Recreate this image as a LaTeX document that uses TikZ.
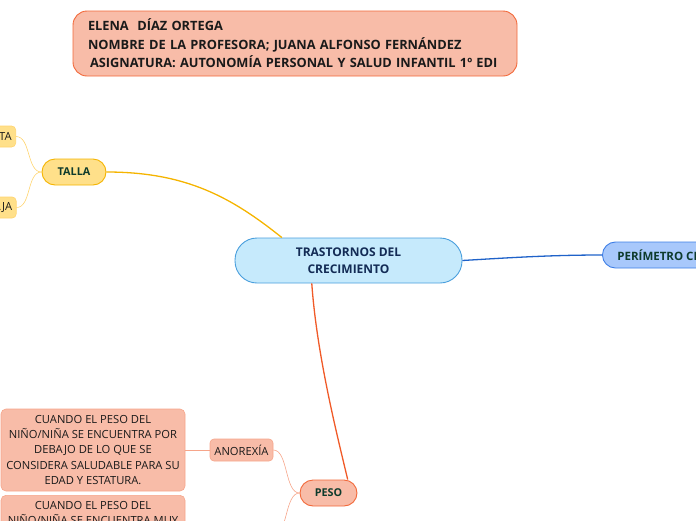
\documentclass[tikz,border=0pt]{standalone}
\usepackage{fontspec}
\setmainfont{Open Sans}
\definecolor{salfill}{HTML}{F8BCA8}
\definecolor{salline}{HTML}{F2693A}
\definecolor{sallight}{HTML}{F6A58A}
\definecolor{yelfill}{HTML}{FFE08A}
\definecolor{yelline}{HTML}{F5B400}
\definecolor{yellight}{HTML}{FFD46E}
\definecolor{bluefill}{HTML}{C6EAFC}
\definecolor{blueline}{HTML}{4A9FDD}
\definecolor{perfill}{HTML}{A8C8FB}
\definecolor{perline}{HTML}{3F7FE6}
\definecolor{bluecon}{HTML}{1F62C9}
\definecolor{redcon}{HTML}{F05A28}
\definecolor{darkgreen}{HTML}{0E3B2C}
\definecolor{navy}{HTML}{132B55}
\definecolor{txt}{HTML}{1A1A1A}
\tikzset{
  box/.style={draw, line width=0.9pt, inner sep=0pt, align=center},
  topic/.style={box, font=\bfseries\fontsize{10.8}{13}\selectfont, text=darkgreen},
  leaf/.style={box, line width=0.6pt, font=\fontsize{11.2}{15.3}\selectfont, text=txt},
  maincon/.style={line width=1.3pt},
  subcon/.style={line width=0.6pt},
}
\begin{document}
\begin{tikzpicture}[x=1pt,y=-1pt]
\useasboundingbox (0,0) rectangle (696,520);
% title
\node[box, fill=salfill, draw=salline, rounded corners=14pt, minimum width=444pt, minimum height=65pt,
  text width=414pt, align=left, font=\bfseries\fontsize{12.8}{18.5}\selectfont, text=txt] (title) at (295,43.5)
  {ELENA\ \ DÍAZ ORTEGA\\NOMBRE DE LA PROFESORA; JUANA ALFONSO FERNÁNDEZ\\\hspace{2pt}ASIGNATURA: AUTONOMÍA PERSONAL Y SALUD INFANTIL 1º EDI};
% central
\node[box, fill=bluefill, draw=blueline, rounded corners=22pt, minimum width=227pt, minimum height=45pt,
  font=\bfseries\fontsize{12}{17}\selectfont, text=navy] (cen) at (348.5,260.5) {TRASTORNOS DEL\\CRECIMIENTO};
% talla
\node[topic, fill=yelfill, draw=yelline, rounded corners=13pt, minimum width=64pt, minimum height=26pt] (talla) at (74,172) {TALLA};
\node[leaf, fill=yelfill, draw=yellight, rounded corners=4pt, inner xsep=4pt, minimum height=21pt, anchor=east] (alta) at (16,136.5) {ALTA};
\node[leaf, fill=yelfill, draw=yellight, rounded corners=4pt, inner xsep=4pt, minimum height=21pt, anchor=east] (baja) at (16.5,207.5) {BAJA};
% perimetro
\node[topic, fill=perfill, draw=perline, rounded corners=13pt, minimum height=26pt, anchor=west, inner xsep=15pt,
  font=\bfseries\fontsize{11.5}{13}\selectfont] (per) at (602,255) {PERÍMETRO CRANEAL};
% peso
\node[topic, fill=salfill, draw=salline, rounded corners=13pt, minimum width=57pt, minimum height=26pt] (peso) at (328.5,493) {PESO};
\node[leaf, fill=salfill, draw=sallight, rounded corners=4pt, minimum width=63pt, minimum height=22pt] (ano) at (241.5,450) {ANOREXÍA};
\node[leaf, fill=salfill, draw=sallight, rounded corners=5pt, minimum width=184pt, minimum height=82pt] (d1) at (93,450)
  {CUANDO EL PESO DEL\\NIÑO/NIÑA SE ENCUENTRA POR\\DEBAJO DE LO QUE SE\\CONSIDERA SALUDABLE PARA SU\\EDAD Y ESTATURA.};
\node[leaf, fill=salfill, draw=sallight, rounded corners=5pt, minimum width=184pt, minimum height=82pt, anchor=north] (d2) at (93,495)
  {CUANDO EL PESO DEL\\NIÑO/NIÑA SE ENCUENTRA MUY\\POR ENCIMA DE LO QUE SE\\CONSIDERA SALUDABLE PARA SU\\EDAD Y ESTATURA.};
\coordinate (c2) at (273,536);
% connectors
\draw[maincon, yelline] (cen.161) .. controls +(-50,-40) and +(80,0) .. (talla.east);
\draw[maincon, bluecon] (cen.east) .. controls +(50,-3) and +(-50,0) .. (per.west);
\draw[maincon, redcon] (cen.212.4) .. controls +(5,70) and +(-12,-50) .. (peso.35);
\draw[subcon, yellight] (talla.west) .. controls +(-15,0) and +(15,0) .. (alta.east);
\draw[subcon, yellight] (talla.west) .. controls +(-15,0) and +(15,0) .. (baja.east);
\draw[subcon, sallight] (peso.west) .. controls +(-15,0) and +(15,0) .. (ano.east);
\draw[subcon, sallight] (peso.west) .. controls +(-15,0) and +(15,0) .. (c2);
\draw[subcon, sallight] (ano.west) -- (d1.east);
\end{tikzpicture}
\end{document}
